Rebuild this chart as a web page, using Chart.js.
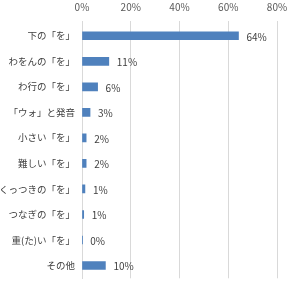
<!DOCTYPE html>
<html><head><meta charset="utf-8">
<script src="https://cdn.jsdelivr.net/npm/chart.js@4/dist/chart.umd.min.js"></script>
<style>html,body{margin:0;padding:0;background:#fff}#wrap{width:300px;height:291px;position:relative}</style>
</head><body><div id="wrap"><canvas id="c" width="300" height="291"></canvas></div>
<script>
const categories = ["下の「を」","わをんの「を」","わ行の「を」","「ウォ」と発音","小さい「を」","難しい「を」","くっつきの「を」","つなぎの「を」","重(た)い「を」","その他"];
const values = [64.2, 11.0, 6.4, 3.3, 1.7, 1.7, 1.2, 0.7, 0.1, 9.6];
const xTicks = [0, 20, 40, 60, 80];

const labelPlugin = {
  id: 'valLabels',
  afterDatasetsDraw(chart) {
    const ctx = chart.ctx;
    const meta = chart.getDatasetMeta(0);
    ctx.save();
    ctx.font = '10px "Noto Sans CJK JP", "Noto Sans", sans-serif';
    ctx.fillStyle = '#404040';
    ctx.textAlign = 'left';
    ctx.textBaseline = 'middle';
    meta.data.forEach((bar, i) => {
      ctx.fillText(Math.round(values[i]) + '%', bar.x + 8, bar.y + 1);
    });
    ctx.restore();
  }
};

new Chart(document.getElementById('c'), {
  type: 'bar',
  data: {
    labels: categories,
    datasets: [{ data: values, backgroundColor: '#4f81bd', borderWidth: 0, barThickness: 8 }]
  },
  options: {
    indexAxis: 'y',
    responsive: false,
    animation: false,
    layout: { padding: { left: 0, right: 23, top: 0, bottom: 9 } },
    plugins: { legend: { display: false }, tooltip: { enabled: false } },
    scales: {
      x: {
        position: 'top',
        min: 0, max: 80,
        afterBuildTicks(axis) { axis.ticks = xTicks.map(v => ({ value: v })); },
        afterFit(axis) { axis.height = 23; },
        ticks: {
          callback: v => v + '%',
          color: '#595959',
          font: { family: '"Noto Sans CJK JP", "Noto Sans", sans-serif', size: 10 },
          padding: 8
        },
        grid: { color: '#d9d9d9', drawTicks: true, tickLength: 2, tickColor: '#d9d9d9', lineWidth: 1 },
        border: { display: false }
      },
      y: {
        afterFit(axis) { axis.width = 82; },
        ticks: {
          color: '#404040',
          font: { family: '"Noto Sans CJK JP", "Noto Sans", sans-serif', size: 9.5 },
          padding: 7
        },
        grid: { display: false, drawTicks: false },
        border: { display: true, color: '#d9d9d9' }
      }
    }
  },
  plugins: [labelPlugin]
});
</script></body></html>
